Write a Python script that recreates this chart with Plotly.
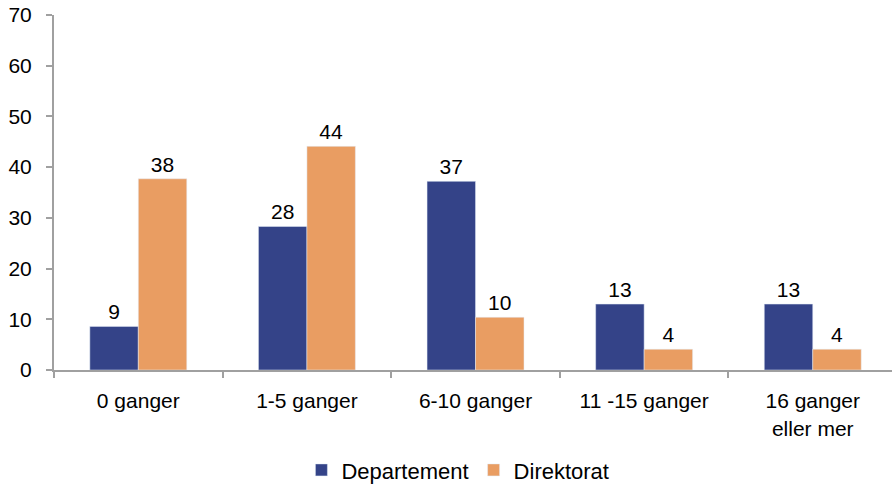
import plotly.graph_objects as go

# Number of times, grouped by respondent type
categories = ["0 ganger", "1-5 ganger", "6-10 ganger", "11 -15 ganger", "16 ganger<br>eller mer"]
departement = [8.6, 28.3, 37.2, 13.0, 13.0]
direktorat = [37.7, 44.1, 10.4, 4.1, 4.1]
y_ticks = [0, 10, 20, 30, 40, 50, 60, 70]

FONT = "Liberation Sans, Arial, sans-serif"
AXIS_GREY = "#a0a0a0"
SIZE = 21

fig = go.Figure()
fig.add_trace(go.Bar(
    name="Departement", x=categories, y=departement,
    marker=dict(color="#344388"),
    texttemplate="%{y:.0f}", textposition="outside",
    textfont=dict(size=SIZE, color="#000000", family=FONT),
    cliponaxis=False,
))
fig.add_trace(go.Bar(
    name="Direktorat", x=categories, y=direktorat,
    marker=dict(color="#E99D62"),
    texttemplate="%{y:.0f}", textposition="outside",
    textfont=dict(size=SIZE, color="#000000", family=FONT),
    cliponaxis=False,
))

fig.update_layout(
    width=892, height=485,
    margin=dict(l=54, r=0, t=15, b=115, autoexpand=False),
    paper_bgcolor="white", plot_bgcolor="white",
    barmode="group", bargap=0.425, bargroupgap=0,
    font=dict(family=FONT, size=SIZE, color="#000000"),
    showlegend=True,
    legend=dict(
        orientation="h", x=0.482, xanchor="center",
        y=-0.282, yanchor="middle",
        font=dict(size=22, family=FONT),
        itemwidth=30, traceorder="normal",
    ),
)
fig.update_xaxes(
    range=[-0.5, 4.47], automargin=False,
    showline=True, linecolor=AXIS_GREY, linewidth=2,
    ticks="outside", tickson="boundaries", ticklen=6, tickcolor=AXIS_GREY, tickwidth=2,
    showgrid=False, tickfont=dict(size=SIZE, family=FONT), tickangle=0,
    ticklabelstandoff=11,
)
fig.update_yaxes(
    range=[0, 70], tickvals=y_ticks, automargin=False,
    showline=True, linecolor=AXIS_GREY, linewidth=2,
    ticks="outside", ticklen=6, tickcolor=AXIS_GREY, tickwidth=2,
    showgrid=False, zeroline=False, tickfont=dict(size=SIZE, family=FONT),
    ticklabelstandoff=10,
)

fig.write_html("out.html")
